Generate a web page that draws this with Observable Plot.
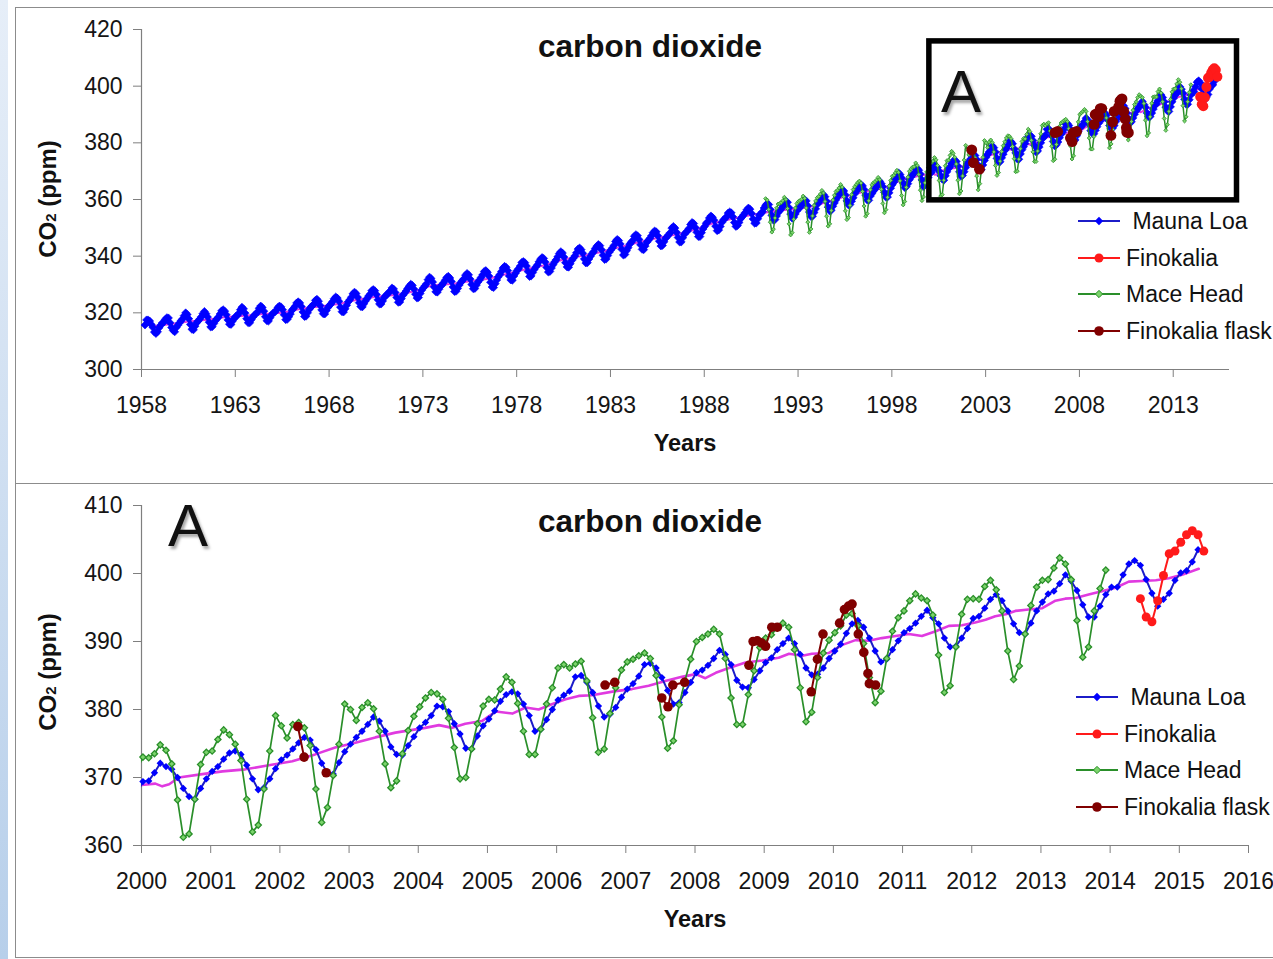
<!DOCTYPE html>
<html>
<head>
<meta charset="utf-8">
<script src="https://cdn.jsdelivr.net/npm/d3@7"></script>
<script src="https://cdn.jsdelivr.net/npm/@observablehq/plot@0.6"></script>
<style>
  html, body { margin: 0; padding: 0; background: #fff; }
  body { width: 1273px; height: 959px; overflow: hidden; position: relative; font-family: "Liberation Sans", Arial, sans-serif; color: #111; }
  #strip { position: absolute; left: 0; top: 0; width: 8px; height: 959px; background: linear-gradient(#e6eef8, #b7cfea); }
  .panel { position: absolute; left: 15px; width: 1300px; border: 1px solid #8c8c8c; box-sizing: border-box; }
  .chart { position: absolute; left: 0; }
  .title { position: absolute; font-weight: bold; font-size: 31.5px; line-height: 1; white-space: nowrap; transform: translateX(-50%); }
  .bigA { position: absolute; font-size: 60px; line-height: 1; transform: translateX(-50%); text-shadow: 2px 3px 3px rgba(0,0,0,0.35); }
  .ylab { position: absolute; font-weight: bold; font-size: 24px; white-space: nowrap; transform: translate(-50%, -50%) rotate(-90deg); }
  .xlab { position: absolute; font-weight: bold; font-size: 23.5px; line-height: 1; transform: translate(-50%, -50%); }
  .leg { position: absolute; height: 24px; line-height: 24px; font-size: 23px; display: flex; align-items: center; white-space: pre; }
  .leg svg { flex: none; margin-right: 6px; }
</style>
</head>
<body>
<div id="strip"></div>
<div class="panel" style="top:7px;height:477px;"></div>
<div class="panel" style="top:483px;height:475px;"></div>
<div id="top" class="chart" style="top:0px;"></div>
<div id="bottom" class="chart" style="top:483px;"></div>
<div id="overlay"></div>
<script>
// ---------------- data ----------------
const maunaLoaStartYear = 1958;
const maunaLoa = [
  [null,null,315.7,317.5,317.5,317.1,315.9,314.9,313.2,312.7,313.3,314.7],
  [315.6,316.4,316.7,317.7,318.3,318.2,316.5,314.8,313.8,313.3,314.8,315.6],
  [316.4,317.2,317.8,319.0,320.0,319.4,317.9,315.9,314.2,314.0,315.3,316.5],
  [317.1,317.8,318.6,319.7,320.5,319.7,318.5,316.7,315.0,315.1,316.2,317.2],
  [317.9,318.5,319.6,320.7,321.1,320.6,319.3,317.5,316.0,315.9,317.1,318.0],
  [318.7,319.1,319.8,321.1,322.0,321.4,319.9,317.9,316.5,316.5,317.6,318.5],
  [319.2,319.7,320.3,321.6,322.4,321.9,320.6,318.6,317.2,317.1,318.3,319.3],
  [319.9,320.3,320.9,321.9,322.4,322.1,321.1,319.3,317.6,317.7,318.6,319.6],
  [320.9,321.5,322.3,323.5,323.9,323.5,322.2,320.3,318.7,318.8,320.0,321.2],
  [322.0,322.5,323.1,324.4,324.8,324.1,322.6,321.0,319.7,319.6,320.8,321.9],
  [322.6,323.2,324.0,325.0,325.6,325.2,324.1,322.0,320.4,320.3,321.4,322.7],
  [323.9,324.6,325.5,326.7,327.3,326.8,325.5,323.6,322.2,322.1,323.2,324.2],
  [325.0,325.9,326.6,327.8,328.2,327.8,326.5,324.6,323.1,323.1,324.2,325.4],
  [326.1,326.6,327.2,327.8,328.8,328.4,327.2,325.4,323.7,323.8,325.0,326.2],
  [326.9,327.7,328.6,329.4,330.1,329.7,328.4,326.6,325.2,325.4,326.8,328.0],
  [328.8,329.5,330.2,331.7,332.6,332.1,330.9,329.1,327.4,327.3,328.3,329.4],
  [329.8,330.6,331.5,332.5,332.9,332.3,331.1,329.1,327.5,327.6,328.6,329.8],
  [330.7,331.4,332.0,333.3,333.9,333.4,331.9,330.0,328.5,328.6,329.8,330.9],
  [331.6,332.5,333.4,334.6,334.9,334.3,333.0,330.8,329.1,328.9,330.3,331.6],
  [332.7,333.5,334.6,335.8,336.4,336.1,334.9,333.0,331.6,331.5,333.0,334.0],
  [334.9,335.6,336.5,337.8,338.1,337.7,336.5,334.6,332.8,333.0,334.2,335.3],
  [336.2,336.9,338.0,338.9,339.5,339.2,337.9,336.0,334.4,334.6,335.8,337.0],
  [337.9,338.7,339.8,340.9,341.6,341.1,339.7,337.7,336.2,336.1,337.3,338.5],
  [339.3,340.1,341.2,342.5,342.9,342.3,341.0,339.0,337.6,337.7,339.0,340.0],
  [340.9,341.6,342.7,343.5,344.1,343.7,342.3,340.3,338.8,339.0,340.2,341.4],
  [342.2,342.9,343.8,345.2,345.9,345.5,344.3,342.4,340.4,340.6,341.9,343.0],
  [344.2,344.9,345.5,347.0,347.6,347.2,345.9,344.0,342.4,342.3,343.6,344.9],
  [345.6,346.3,347.2,348.3,348.9,348.6,347.2,345.3,343.6,343.8,345.1,346.3],
  [346.9,347.6,348.3,349.9,350.5,349.9,348.4,346.6,345.0,345.0,346.5,347.7],
  [348.4,348.9,349.8,351.2,351.9,351.5,350.1,348.4,346.9,346.9,348.3,349.6],
  [350.5,351.6,352.1,353.5,354.2,353.7,352.7,350.6,349.0,349.2,350.5,351.9],
  [352.8,353.3,353.9,355.2,355.6,355.3,353.9,351.9,350.5,350.8,351.9,353.2],
  [353.9,354.6,355.4,356.4,357.0,356.6,355.1,353.1,351.6,351.7,353.2,354.5],
  [355.0,355.7,357.0,358.0,358.5,358.2,356.5,354.4,352.7,352.9,354.2,355.4],
  [356.0,356.7,357.7,358.7,359.4,359.0,357.1,354.9,353.4,353.8,354.9,356.0],
  [356.7,357.2,358.1,359.3,359.9,359.5,357.8,355.6,354.0,354.1,355.4,356.7],
  [358.3,358.9,359.8,361.2,361.7,361.0,359.4,357.3,355.9,356.2,357.6,358.8],
  [359.9,361.0,361.7,363.1,363.5,363.0,361.6,359.5,358.1,358.2,359.4,360.6],
  [362.0,363.0,363.5,364.6,365.3,364.8,363.5,361.5,359.8,359.7,361.2,362.1],
  [363.0,363.7,364.6,366.2,366.4,365.6,364.5,362.5,360.8,360.9,362.4,364.0],
  [365.2,366.1,367.1,368.5,369.4,368.8,367.6,365.8,364.2,364.5,365.6,367.0],
  [367.9,368.7,369.3,370.8,370.9,370.3,369.0,366.9,364.6,365.1,366.6,367.8],
  [369.4,369.5,370.7,372.1,371.6,371.2,370.0,368.4,367.2,366.8,368.4,369.8],
  [370.9,371.6,372.7,373.6,373.9,373.4,371.8,369.8,368.2,368.5,369.8,371.3],
  [372.6,373.3,374.2,375.1,375.9,375.5,374.1,372.1,370.7,370.5,372.2,373.8],
  [374.9,375.9,376.8,377.8,378.9,378.3,376.8,374.5,373.4,373.3,374.7,376.0],
  [377.3,378.1,379.1,380.5,380.4,379.7,377.9,376.4,374.3,374.2,376.1,377.6],
  [378.6,379.8,381.2,382.2,382.6,382.3,380.8,379.1,376.8,377.1,378.5,380.0],
  [381.4,382.1,382.7,384.8,385.0,384.0,382.5,380.5,378.9,379.3,380.3,381.8],
  [383.0,383.8,384.9,386.6,386.8,386.1,384.7,382.8,380.8,381.0,382.5,384.0],
  [385.4,385.8,386.5,387.5,388.7,388.1,386.6,384.3,383.3,383.2,384.4,385.7],
  [386.9,387.6,388.8,389.7,390.5,389.7,388.1,386.1,385.1,385.2,386.1,387.5],
  [388.6,389.6,391.2,392.6,393.1,392.1,390.5,388.6,387.0,387.4,388.8,390.1],
  [391.3,391.9,392.7,393.7,394.6,393.5,392.6,390.5,389.2,389.3,390.5,391.9],
  [393.4,393.7,394.9,396.2,396.9,396.0,394.5,392.6,391.3,391.1,392.7,394.5],
  [395.8,397.0,397.4,398.5,399.8,398.9,397.5,395.4,393.6,393.6,395.2,396.9],
  [398.0,398.0,399.8,401.4,401.9,401.2,399.1,397.1,395.2,396.2,397.1,399.0],
  [400.1,400.4,401.7,403.5]
];

const maceHeadStartYear = 1991;
const maceHead = [
  [null,null,null,360.3,359.8,356.5,352.0,348.5,349.5,353.5,357.0,358.4],
  [358.6,358.9,359.6,360.8,360.0,356.8,351.4,347.5,348.3,353.0,357.0,358.6],
  [359.3,359.6,360.1,361.2,360.4,357.0,352.0,348.4,349.6,354.2,357.9,359.5],
  [360.6,361.1,361.9,363.2,362.3,359.3,354.1,350.6,351.4,356.1,359.8,361.5],
  [362.8,363.3,364.1,365.3,364.4,361.0,356.0,352.9,353.6,357.9,361.7,363.5],
  [364.5,365.3,366.0,366.5,365.8,362.8,357.7,354.1,355.0,359.6,363.4,365.2],
  [365.9,366.3,366.9,367.8,367.0,363.6,358.6,355.3,356.4,360.8,364.8,366.7],
  [368.2,368.6,369.4,370.3,369.6,366.6,361.4,358.1,359.3,364.3,367.9,370.0],
  [370.8,371.4,371.6,372.9,372.0,368.8,363.3,359.6,360.9,365.9,369.7,371.2],
  [373.0,372.9,373.5,374.8,374.0,372.0,366.7,361.2,361.7,366.8,371.9,373.7],
  [373.9,375.6,377.0,376.3,374.9,372.5,366.8,362.0,363.0,368.3,373.9,379.1],
  [377.6,375.8,377.8,378.1,377.3,374.7,368.3,363.4,365.6,370.3,374.9,380.8],
  [380.0,378.4,380.3,381.0,380.1,376.8,372.0,368.5,369.5,373.5,376.9,379.0],
  [380.4,381.7,382.5,382.3,381.5,378.7,374.4,369.8,370.0,374.2,377.9,380.5],
  [381.5,381.4,383.0,384.8,384.0,380.9,376.8,373.4,373.4,377.1,380.8,383.2],
  [386.1,386.6,386.1,386.7,387.1,384.2,378.8,373.7,374.2,379.4,383.2,385.8],
  [387.0,387.4,387.9,388.3,387.5,385.0,378.9,374.3,375.4,380.7,384.2,387.4],
  [390.0,390.6,391.1,391.8,391.1,387.5,381.7,377.8,377.8,382.2,385.7,389.1],
  [390.5,391.0,392.0,392.7,392.1,388.8,383.2,378.2,379.6,384.7,388.3,390.2],
  [391.3,392.3,393.9,394.1,392.3,389.7,384.7,381.0,382.7,387.5,391.5,393.5],
  [394.5,396.0,397.0,396.4,396.0,393.9,388.0,382.5,383.5,389.2,394.0,396.2],
  [396.3,396.2,398.1,399.0,397.6,394.5,388.6,384.4,386.4,391.1,395.3,398.0],
  [399.0,399.1,400.8,402.3,401.4,399.1,393.1,387.7,389.2,394.5,397.8,400.5]
];

// Finokalia continuous: June 2014 .. May 2015
const finokaliaStart = [2014, 5];
const finokalia = [396.3,393.6,392.9,396.0,399.7,402.9,403.3,404.6,405.7,406.3,405.7,403.3];

// Finokalia flask samples (null = gap in the line)
const flaskDates  = [2002.26,2002.35,null,2002.67,null,2006.70,2006.84,null,2007.52,2007.61,2007.68,2007.85,null,
  2008.78,2008.84,2008.90,2008.96,2009.02,2009.11,2009.19,null,2009.68,2009.77,2009.85,null,
  2010.09,2010.16,2010.22,2010.27,2010.36,2010.44,2010.50,2010.52,2010.61];
const flaskValues = [377.5,373.0,null,370.7,null,383.6,384.0,null,381.7,380.4,383.6,384.0,null,
  386.5,390.0,390.1,389.8,389.3,392.1,392.1,null,382.6,387.4,391.1,null,
  392.7,394.7,395.2,395.5,391.1,388.4,385.3,383.8,383.6];

// de-seasonalised trend (magenta)
const trendDates = [1958.5,1959.5,1960.5,1961.5,1962.5,1963.5,1964.5,1965.5,1966.5,1967.5,1968.5,1969.5,1970.5,
  1971.5,1972.5,1973.5,1974.5,1975.5,1976.5,1977.5,1978.5,1979.5,1980.5,1981.5,1982.5,1983.5,1984.5,1985.5,
  1986.5,1987.5,1988.5,1989.5,1990.5,1991.5,1992.5,1993.5,1994.5,1995.5,1996.5,1997.5,1998.5,1999.5,
  2000.0,2000.2,2000.3,2000.4,2000.54,2000.88,2001.17,2001.50,2001.84,2002.18,2002.51,2002.80,2003.09,2003.38,2003.67,
  2004.10,2004.30,2004.49,2004.68,2004.92,2005.12,2005.36,2005.55,2005.74,2005.94,2006.13,2006.32,2006.51,2006.85,
  2007.09,2007.33,2007.57,2007.81,2008.01,2008.15,2008.30,2008.49,2008.73,2008.97,2009.21,2009.36,2009.55,2009.69,
  2009.93,2010.13,2010.32,2010.51,2010.70,2010.90,2011.09,2011.28,2011.48,2011.67,2011.86,2012.05,2012.20,2012.34,
  2012.49,2012.63,2012.82,2013.02,2013.21,2013.35,2013.50,2013.69,2013.88,2014.08,2014.27,2014.46,2014.66,2014.85,
  2015.04,2015.28];
const trendValues = [315.2,316.0,316.9,317.6,318.5,319.0,319.6,320.0,321.4,322.2,323.1,324.6,325.7,
  326.3,327.5,329.7,330.2,331.1,332.0,333.8,335.4,336.8,338.8,340.1,341.5,343.2,344.9,346.4,
  347.6,349.3,351.7,353.2,354.5,355.7,356.5,357.2,359.0,361.0,362.7,363.9,366.8,368.5,
  368.9,369.1,368.7,369.0,370.0,370.5,370.9,371.2,371.8,372.4,373.4,374.4,375.1,375.9,376.6,
  377.3,377.7,377.3,377.9,378.3,379.7,379.4,380.3,380.0,380.8,381.5,382.0,382.1,382.7,
  383.0,383.5,384.2,384.8,385.2,384.6,385.4,386.1,386.9,387.2,387.6,388.2,387.9,388.2,
  388.3,389.5,390.2,390.1,390.5,390.8,391.1,390.8,391.5,392.3,392.4,392.8,393.2,393.7,
  394.0,394.5,394.7,394.9,396.0,396.3,396.4,396.9,397.4,397.9,398.8,398.9,399.0,399.3,
  399.8,400.7];

const topXTicks = [1958,1963,1968,1973,1978,1983,1988,1993,1998,2003,2008,2013];
const topYTicks = [300,320,340,360,380,400,420];
const bottomXTicks = [2000,2001,2002,2003,2004,2005,2006,2007,2008,2009,2010,2011,2012,2013,2014,2015,2016];
const bottomYTicks = [360,370,380,390,400,410];
const zoomBox = [{x1: 2000, x2: 2016.4, y1: 359.7, y2: 415.8}];

const chartTitle = "carbon dioxide";
const seriesNames = [" Mauna Loa", "Finokalia", "Mace Head", "Finokalia flask"];

// ---------------- build tables ----------------
function monthly(startYear, rows) {
  const out = [];
  rows.forEach((row, i) => row.forEach((v, m) => {
    if (v != null) out.push({date: startYear + i + (m + 0.25) / 12, value: v});
  }));
  return out;
}
const mlo = monthly(maunaLoaStartYear, maunaLoa);
const mace = monthly(maceHeadStartYear, maceHead);
const fino = finokalia.map((v, i) => ({date: finokaliaStart[0] + (finokaliaStart[1] + i + 0.25) / 12, value: v}));
const flask = flaskDates.map((d, i) => ({date: d, value: flaskValues[i]}));
const trend = trendDates.map((d, i) => ({date: d, value: trendValues[i]}));

const C = {
  mloLine: "#1c1cc8", mloDot: "#0000ff",
  fino: "#ff1a1a",
  maceLine: "#2a8f2a", maceDot: "#7cd46c",
  flask: "#800000",
  trend: "#e03ae0",
  axis: "#7f7f7f", text: "#151515"
};
const FONT = "'Liberation Sans', Arial, Helvetica, sans-serif";

function axes(xTicks, yTicks, xMin, yMin) {
  return [
    Plot.ruleY([yMin], {stroke: C.axis, strokeWidth: 1.2}),
    Plot.ruleX([xMin], {stroke: C.axis, strokeWidth: 1.2}),
    Plot.axisY({ticks: yTicks, tickSize: 8, tickPadding: 11, fontSize: 23, stroke: C.axis, fill: C.text, label: null}),
    Plot.axisX({ticks: xTicks, tickFormat: d => String(d), tickSize: 8, tickPadding: 19, fontSize: 23, stroke: C.axis, fill: C.text, label: null})
  ];
}

// ---------------- top panel ----------------
const topPlot = Plot.plot({
  width: 1273, height: 480,
  marginLeft: 141, marginRight: 44, marginTop: 29, marginBottom: 111,
  x: {domain: [1958, 2016]},
  y: {domain: [300, 420]},
  style: {fontFamily: FONT, background: "transparent", overflow: "visible"},
  marks: [
    ...axes(topXTicks, topYTicks, 1958, 300),
    Plot.line(trend, {x: "date", y: "value", stroke: C.trend, strokeWidth: 2}),
    Plot.line(mlo, {x: "date", y: "value", stroke: C.mloLine, strokeWidth: 3}),
    Plot.dot(mlo, {x: "date", y: "value", symbol: "diamond2", r: 3.6, fill: C.mloDot, stroke: C.mloDot, strokeWidth: 0.6}),
    Plot.line(fino, {x: "date", y: "value", stroke: C.fino, strokeWidth: 2}),
    Plot.dot(fino, {x: "date", y: "value", r: 5, fill: C.fino}),
    Plot.line(mace, {x: "date", y: "value", stroke: C.maceLine, strokeWidth: 1.5}),
    Plot.dot(mace, {x: "date", y: "value", symbol: "diamond2", r: 1.8, fill: C.maceDot, stroke: C.maceLine, strokeWidth: 0.8}),
    Plot.line(flask, {x: "date", y: "value", stroke: C.flask, strokeWidth: 2}),
    Plot.dot(flask, {x: "date", y: "value", r: 5.4, fill: C.flask}),
    Plot.rect(zoomBox, {x1: "x1", x2: "x2", y1: "y1", y2: "y2", fill: "none", stroke: "#000", strokeWidth: 5.5})
  ]
});
document.getElementById("top").appendChild(topPlot);

// ---------------- bottom panel ----------------
const inZoom = d => d.date >= 2000;
const bottomPlot = Plot.plot({
  width: 1273, height: 476,
  marginLeft: 141, marginRight: 25, marginTop: 22, marginBottom: 114,
  x: {domain: [2000, 2016]},
  y: {domain: [360, 410]},
  style: {fontFamily: FONT, background: "transparent", overflow: "visible"},
  marks: [
    ...axes(bottomXTicks, bottomYTicks, 2000, 360),
    Plot.line(trend, {x: "date", y: "value", stroke: C.trend, strokeWidth: 2.6, clip: true}),
    Plot.line(mlo, {x: "date", y: "value", stroke: C.mloLine, strokeWidth: 2, clip: true}),
    Plot.dot(mlo, {filter: inZoom, x: "date", y: "value", symbol: "diamond2", r: 3.3, fill: C.mloDot}),
    Plot.line(fino, {x: "date", y: "value", stroke: C.fino, strokeWidth: 2}),
    Plot.dot(fino, {x: "date", y: "value", r: 4.5, fill: C.fino}),
    Plot.line(mace, {x: "date", y: "value", stroke: C.maceLine, strokeWidth: 1.7, clip: true}),
    Plot.dot(mace, {filter: inZoom, x: "date", y: "value", symbol: "diamond2", r: 2.8, fill: C.maceDot, stroke: C.maceLine, strokeWidth: 1.3}),
    Plot.line(flask, {x: "date", y: "value", stroke: C.flask, strokeWidth: 2}),
    Plot.dot(flask, {x: "date", y: "value", r: 4.8, fill: C.flask})
  ]
});
document.getElementById("bottom").appendChild(bottomPlot);

// ---------------- text overlays & legends ----------------
const ov = document.getElementById("overlay");
function add(html, cls, style) {
  const d = document.createElement("div");
  d.className = cls; d.setAttribute("style", style); d.innerHTML = html; ov.appendChild(d); return d;
}
add(chartTitle, "title", "left:650px;top:31px;");
add(chartTitle, "title", "left:650px;top:506px;");
add("A", "bigA", "left:961px;top:62px;");
add("A", "bigA", "left:188px;top:496px;");
const ylabHtml = 'CO<span style="font-size:0.62em;">2</span> (ppm)';
add(ylabHtml, "ylab", "left:48px;top:199px;");
add(ylabHtml, "ylab", "left:48px;top:672px;");
add("Years", "xlab", "left:685px;top:444px;");
add("Years", "xlab", "left:695px;top:920px;");

const legendStyles = [
  {line: C.mloLine, fill: C.mloDot, stroke: "none", sym: "diamond", size: 3.2},
  {line: C.fino, fill: C.fino, stroke: "none", sym: "circle", size: 4.5},
  {line: C.maceLine, fill: C.maceDot, stroke: C.maceLine, sym: "diamond", size: 2.8},
  {line: C.flask, fill: C.flask, stroke: "none", sym: "circle", size: 4.8}
];
function swatch(s) {
  const m = s.sym === "circle"
    ? `<circle cx="21" cy="12" r="${s.size}" fill="${s.fill}"/>`
    : `<path d="M21 ${12 - s.size * 1.3}L${21 + s.size * 1.3} 12L21 ${12 + s.size * 1.3}L${21 - s.size * 1.3} 12Z" fill="${s.fill}" stroke="${s.stroke}" stroke-width="1"/>`;
  return `<svg width="42" height="24"><line x1="0" y1="12" x2="42" y2="12" stroke="${s.line}" stroke-width="2"/>${m}</svg>`;
}
const topLegendY = [221, 258, 294, 331];
const bottomLegendY = [697, 734, 770, 807];
seriesNames.forEach((name, i) => {
  add(swatch(legendStyles[i]) + `<span>${name}</span>`, "leg", `left:1078px;top:${topLegendY[i] - 12}px;`);
  add(swatch(legendStyles[i]) + `<span>${name}</span>`, "leg", `left:1076px;top:${bottomLegendY[i] - 12}px;`);
});
</script>
</body>
</html>
